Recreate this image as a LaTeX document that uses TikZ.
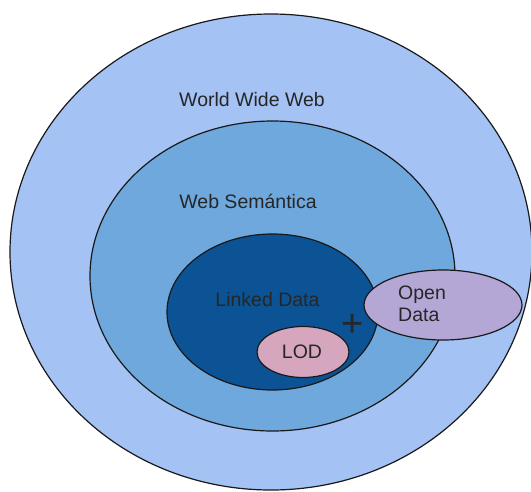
\documentclass[tikz,border=0pt]{standalone}
\usepackage{fontspec}
\setmainfont{Liberation Sans}
\usetikzlibrary{shapes.geometric}

\definecolor{webblue}{HTML}{A4C2F4}
\definecolor{semblue}{HTML}{6FA8DC}
\definecolor{linkblue}{HTML}{0B5394}
\definecolor{lodpink}{HTML}{D5A6BD}
\definecolor{openlilac}{HTML}{B4A7D6}

\begin{document}
\begin{tikzpicture}[x=1pt, y=-1pt,
% Ellipse styles
 area/.style={ellipse, draw=black!90, line width=1.2pt, inner sep=0pt},
 web/.style={area, fill=webblue, minimum width=522pt, minimum height=476pt},
 sem/.style={area, fill=semblue, minimum width=365pt, minimum height=310pt},
 linked/.style={area, fill=linkblue, minimum width=211pt, minimum height=156pt},
 lod/.style={area, fill=lodpink, minimum width=92pt, minimum height=51pt},
 open/.style={area, fill=openlilac, minimum width=158pt, minimum height=70pt},
% Text styles
 txt/.style={inner sep=0pt, text=black!85, font=\fontsize{19.5}{22.5}\selectfont}
]
\useasboundingbox (0,0) rectangle (531,491);
\fill[white] (0,0) rectangle (531,491);
\clip (0,0) rectangle (531,491);
% Nested areas
\node[web] (www) at (271,252) {};
\node[sem] (semweb) at (272.5,276) {};
\node[linked] (ld) at (272.5,312) {};
\node[lod] (lodarea) at (303,352) {};
\node[open] (opendata) at (443,305) {};
% Labels
\node[txt, anchor=base] (wwwtext) at (252,106.5) {World Wide Web};
\node[txt, anchor=base] (semtext) at (248,208) {Web Semántica};
\node[txt, anchor=base] (ldtext) at (267.5,306) {Linked Data};
\node[txt, anchor=base] (lodtext) at (302,358) {LOD};
\node[txt, anchor=west, align=left] (opentext) at (398,304) {Open\\Data};
\node[txt, anchor=base, font=\fontsize{38}{38}\selectfont] (plus) at (353,336) {+};
\end{tikzpicture}
\end{document}
